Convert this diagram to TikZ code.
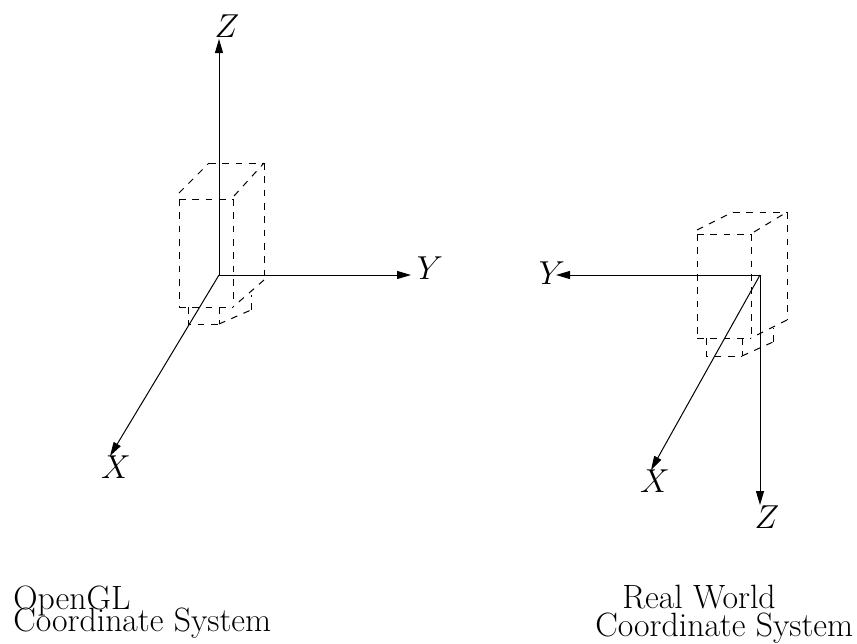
\documentclass[tikz,border=0pt]{standalone}
\usetikzlibrary{arrows.meta}
\tikzset{
 axis/.style={line width=0.75pt,-{Triangle[length=10.5pt,width=6pt]}},
 dashbox/.style={line width=0.75pt,dash pattern=on 5pt off 5pt},
 lab/.style={inner sep=0pt,font=\fontsize{24}{24}\selectfont},
 captext/.style={inner sep=0pt,anchor=base west,font=\fontsize{25.3}{25.3}\selectfont}
}
\begin{document}
\begin{tikzpicture}[x=0.75pt,y=-0.75pt]
\useasboundingbox (0,0) rectangle (857,643);
% left frame
\coordinate (o1) at (219,275);
\coordinate (z1e) at (219,39);
\coordinate (y1e) at (411,275);
\coordinate (x1e) at (110,456);
\node[lab] (z1) at (227,26) {$Z$};
\node[lab] (y1) at (430,268) {$Y$};
\node[lab] (x1) at (116,467) {$X$};
\draw[axis] (o1) -- (z1e);
\draw[axis] (o1) -- (y1e);
\draw[axis] (o1) -- (x1e);
% left box
\coordinate (a1) at (179,199); \coordinate (b1) at (233,199);
\coordinate (c1) at (233,307); \coordinate (d1) at (179,307);
\coordinate (e1) at (209,163); \coordinate (f1) at (264,163);
\coordinate (g1) at (264,280);
\coordinate (p1) at (179,193); \coordinate (q1) at (234,196);
\coordinate (h1) at (188,307); \coordinate (i1) at (188,324);
\coordinate (j1) at (219,324); \coordinate (k1) at (219,307);
\coordinate (l1) at (251,310); \coordinate (m1) at (251,295);
\draw[dashbox] (a1) -- (b1);
\draw[dashbox] (b1) -- (c1);
\draw[dashbox] (d1) -- (c1);
\draw[dashbox] (a1) -- (d1);
\draw[dashbox] (p1) -- (e1);
\draw[dashbox] (e1) -- (f1);
\draw[dashbox] (f1) -- (g1);
\draw[dashbox] (g1) -- (c1);
\draw[dashbox] (q1) -- (f1);
\draw[dashbox] (h1) -- (i1) -- (j1);
\draw[dashbox] (j1) -- (l1);
\draw[dashbox] (l1) -- (m1);
\draw[dashbox] (k1) -- (j1);
% right frame
\coordinate (o2) at (760,275);
\coordinate (z2e) at (760,505);
\coordinate (y2e) at (556,275);
\coordinate (x2e) at (651,470);
\node[lab] (z2) at (767,517) {$Z$};
\node[lab] (y2) at (552,273) {$Y$};
\node[lab] (x2) at (655,481) {$X$};
\draw[axis] (o2) -- (z2e);
\draw[axis] (o2) -- (y2e);
\draw[axis] (o2) -- (x2e);
% right box
\coordinate (a2) at (697,234); \coordinate (b2) at (751,234);
\coordinate (c2) at (751,338); \coordinate (d2) at (697,338);
\coordinate (e2) at (733,212); \coordinate (f2) at (787,212);
\coordinate (g2) at (787,320);
\coordinate (p2) at (697,230); \coordinate (q2) at (754,232);
\coordinate (h2) at (706,338); \coordinate (i2) at (706,356);
\coordinate (j2) at (742,356); \coordinate (k2) at (742,338);
\coordinate (l2) at (773,342); \coordinate (m2) at (773,328);
\draw[dashbox] (a2) -- (b2);
\draw[dashbox] (b2) -- (c2);
\draw[dashbox] (d2) -- (c2);
\draw[dashbox] (a2) -- (d2);
\draw[dashbox] (p2) -- (e2);
\draw[dashbox] (e2) -- (f2);
\draw[dashbox] (f2) -- (g2);
\draw[dashbox] (g2) -- (c2);
\draw[dashbox] (q2) -- (f2);
\draw[dashbox] (h2) -- (i2) -- (j2);
\draw[dashbox] (j2) -- (l2);
\draw[dashbox] (l2) -- (m2);
\draw[dashbox] (k2) -- (j2);
% captions
\node[captext] (c1a) at (13,609) {OpenGL};
\node[captext] (c1b) at (13,631) {Coordinate System};
\node[captext] (c2a) at (622,608) {Real World};
\node[captext] (c2b) at (595,636) {Coordinate System};
\end{tikzpicture}
\end{document}
